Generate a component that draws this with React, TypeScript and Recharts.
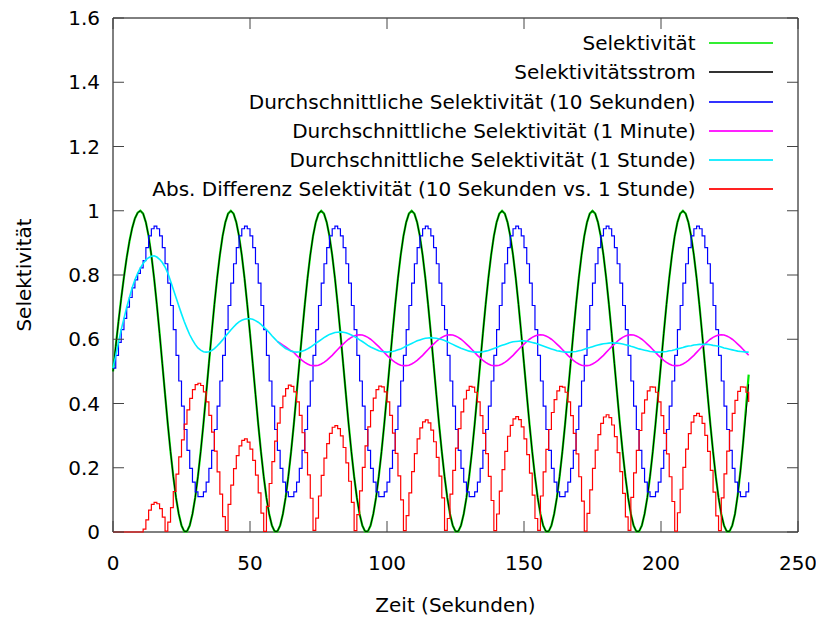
import React from 'react';
import { LineChart, Line, XAxis, YAxis, Legend, ReferenceArea } from 'recharts';

// ---------- data (one sample per second, t = 0 … 232 s) ----------
const sampleCount = 233;
const avg1minStart = 60;

const X_TICKS = [0, 50, 100, 150, 200, 250];
const Y_TICKS = [0, 0.2, 0.4, 0.6, 0.8, 1, 1.2, 1.4, 1.6];

const selektivitaet = [
  0.5, 0.578, 0.655, 0.727, 0.794, 0.854, 0.905, 0.946, 0.976, 0.994,
  1, 0.991, 0.964, 0.921, 0.862, 0.79, 0.708, 0.618, 0.524, 0.429, 0.336, 0.25, 0.173, 0.107, 0.056, 0.02, 0.002, 0.002, 0.02, 0.056, 0.107, 0.173, 0.25, 0.336, 0.429, 0.524, 0.618, 0.708, 0.79, 0.862, 0.921, 0.964, 0.991,
  1, 0.991, 0.964, 0.921, 0.862, 0.79, 0.708, 0.618, 0.524, 0.429, 0.336, 0.25, 0.173, 0.107, 0.056, 0.02, 0.002, 0.002, 0.02, 0.056, 0.107, 0.173, 0.25, 0.336, 0.429, 0.524, 0.618, 0.708, 0.79, 0.862, 0.921, 0.964, 0.991,
  1, 0.991, 0.964, 0.921, 0.862, 0.79, 0.708, 0.618, 0.524, 0.429, 0.336, 0.25, 0.173, 0.107, 0.056, 0.02, 0.002, 0.002, 0.02, 0.056, 0.107, 0.173, 0.25, 0.336, 0.429, 0.524, 0.618, 0.708, 0.79, 0.862, 0.921, 0.964, 0.991,
  1, 0.991, 0.964, 0.921, 0.862, 0.79, 0.708, 0.618, 0.524, 0.429, 0.336, 0.25, 0.173, 0.107, 0.056, 0.02, 0.002, 0.002, 0.02, 0.056, 0.107, 0.173, 0.25, 0.336, 0.429, 0.524, 0.618, 0.708, 0.79, 0.862, 0.921, 0.964, 0.991,
  1, 0.991, 0.964, 0.921, 0.862, 0.79, 0.708, 0.618, 0.524, 0.429, 0.336, 0.25, 0.173, 0.107, 0.056, 0.02, 0.002, 0.002, 0.02, 0.056, 0.107, 0.173, 0.25, 0.336, 0.429, 0.524, 0.618, 0.708, 0.79, 0.862, 0.921, 0.964, 0.991,
  1, 0.991, 0.964, 0.921, 0.862, 0.79, 0.708, 0.618, 0.524, 0.429, 0.336, 0.25, 0.173, 0.107, 0.056, 0.02, 0.002, 0.002, 0.02, 0.056, 0.107, 0.173, 0.25, 0.336, 0.429, 0.524, 0.618, 0.708, 0.79, 0.862, 0.921, 0.964, 0.991,
  1, 0.991, 0.964, 0.921, 0.862, 0.79, 0.708, 0.618, 0.524, 0.429, 0.336, 0.25, 0.173, 0.107, 0.056, 0.02, 0.002, 0.002, 0.02, 0.056, 0.115, 0.19, 0.28, 0.385, 0.49,
];

const selektivitaetsstrom = [
  0.5, 0.578, 0.655, 0.727, 0.794, 0.854, 0.905, 0.946, 0.976, 0.994,
  1, 0.991, 0.964, 0.921, 0.862, 0.79, 0.708, 0.618, 0.524, 0.429, 0.336, 0.25, 0.173, 0.107, 0.056, 0.02, 0.002, 0.002, 0.02, 0.056, 0.107, 0.173, 0.25, 0.336, 0.429, 0.524, 0.618, 0.708, 0.79, 0.862, 0.921, 0.964, 0.991,
  1, 0.991, 0.964, 0.921, 0.862, 0.79, 0.708, 0.618, 0.524, 0.429, 0.336, 0.25, 0.173, 0.107, 0.056, 0.02, 0.002, 0.002, 0.02, 0.056, 0.107, 0.173, 0.25, 0.336, 0.429, 0.524, 0.618, 0.708, 0.79, 0.862, 0.921, 0.964, 0.991,
  1, 0.991, 0.964, 0.921, 0.862, 0.79, 0.708, 0.618, 0.524, 0.429, 0.336, 0.25, 0.173, 0.107, 0.056, 0.02, 0.002, 0.002, 0.02, 0.056, 0.107, 0.173, 0.25, 0.336, 0.429, 0.524, 0.618, 0.708, 0.79, 0.862, 0.921, 0.964, 0.991,
  1, 0.991, 0.964, 0.921, 0.862, 0.79, 0.708, 0.618, 0.524, 0.429, 0.336, 0.25, 0.173, 0.107, 0.056, 0.02, 0.002, 0.002, 0.02, 0.056, 0.107, 0.173, 0.25, 0.336, 0.429, 0.524, 0.618, 0.708, 0.79, 0.862, 0.921, 0.964, 0.991,
  1, 0.991, 0.964, 0.921, 0.862, 0.79, 0.708, 0.618, 0.524, 0.429, 0.336, 0.25, 0.173, 0.107, 0.056, 0.02, 0.002, 0.002, 0.02, 0.056, 0.107, 0.173, 0.25, 0.336, 0.429, 0.524, 0.618, 0.708, 0.79, 0.862, 0.921, 0.964, 0.991,
  1, 0.991, 0.964, 0.921, 0.862, 0.79, 0.708, 0.618, 0.524, 0.429, 0.336, 0.25, 0.173, 0.107, 0.056, 0.02, 0.002, 0.002, 0.02, 0.056, 0.107, 0.173, 0.25, 0.336, 0.429, 0.524, 0.618, 0.708, 0.79, 0.862, 0.921, 0.964, 0.991,
  1, 0.991, 0.964, 0.921, 0.862, 0.79, 0.708, 0.618, 0.524, 0.429, 0.336, 0.25, 0.173, 0.107, 0.056, 0.02, 0.002, 0.002, 0.02, 0.056, 0.115, 0.19, 0.28, 0.37, 0.46,
];

const avg10s = [
  0.51, 0.55, 0.59, 0.63, 0.665, 0.7, 0.73, 0.76, 0.785, 0.805, 0.822, 0.845, 0.885, 0.922, 0.944,
  0.952, 0.944, 0.922, 0.885, 0.835, 0.775, 0.705, 0.63, 0.55, 0.47, 0.392, 0.319, 0.254, 0.198, 0.155, 0.125, 0.11, 0.11, 0.125, 0.155, 0.198, 0.254, 0.319, 0.392, 0.47, 0.55, 0.63, 0.705, 0.775, 0.835, 0.885, 0.922, 0.944,
  0.952, 0.944, 0.922, 0.885, 0.835, 0.775, 0.705, 0.63, 0.55, 0.47, 0.392, 0.319, 0.254, 0.198, 0.155, 0.125, 0.11, 0.11, 0.125, 0.155, 0.198, 0.254, 0.319, 0.392, 0.47, 0.55, 0.63, 0.705, 0.775, 0.835, 0.885, 0.922, 0.944,
  0.952, 0.944, 0.922, 0.885, 0.835, 0.775, 0.705, 0.63, 0.55, 0.47, 0.392, 0.319, 0.254, 0.198, 0.155, 0.125, 0.11, 0.11, 0.125, 0.155, 0.198, 0.254, 0.319, 0.392, 0.47, 0.55, 0.63, 0.705, 0.775, 0.835, 0.885, 0.922, 0.944,
  0.952, 0.944, 0.922, 0.885, 0.835, 0.775, 0.705, 0.63, 0.55, 0.47, 0.392, 0.319, 0.254, 0.198, 0.155, 0.125, 0.11, 0.11, 0.125, 0.155, 0.198, 0.254, 0.319, 0.392, 0.47, 0.55, 0.63, 0.705, 0.775, 0.835, 0.885, 0.922, 0.944,
  0.952, 0.944, 0.922, 0.885, 0.835, 0.775, 0.705, 0.63, 0.55, 0.47, 0.392, 0.319, 0.254, 0.198, 0.155, 0.125, 0.11, 0.11, 0.125, 0.155, 0.198, 0.254, 0.319, 0.392, 0.47, 0.55, 0.63, 0.705, 0.775, 0.835, 0.885, 0.922, 0.944,
  0.952, 0.944, 0.922, 0.885, 0.835, 0.775, 0.705, 0.63, 0.55, 0.47, 0.392, 0.319, 0.254, 0.198, 0.155, 0.125, 0.11, 0.11, 0.125, 0.155, 0.198, 0.254, 0.319, 0.392, 0.47, 0.55, 0.63, 0.705, 0.775, 0.835, 0.885, 0.922, 0.944,
  0.952, 0.944, 0.922, 0.885, 0.835, 0.775, 0.705, 0.63, 0.55, 0.47, 0.392, 0.319, 0.254, 0.198, 0.155, 0.125, 0.11, 0.11, 0.125, 0.155,
];

// starts at t = 60 s (before that it coincides with the 1-hour average)
const avg1min = [
  0.593, 0.588, 0.582, 0.576, 0.57, 0.564, 0.559, 0.55, 0.542, 0.534, 0.528, 0.523, 0.519, 0.518, 0.518, 0.519, 0.523, 0.528, 0.534, 0.542, 0.55, 0.559, 0.568, 0.577, 0.585, 0.593, 0.6, 0.606, 0.61, 0.613,
  0.614, 0.613, 0.61, 0.606, 0.6, 0.593, 0.585, 0.577, 0.568, 0.559, 0.55, 0.542, 0.534, 0.528, 0.523, 0.519, 0.518, 0.518, 0.519, 0.523, 0.528, 0.534, 0.542, 0.55, 0.559, 0.568, 0.577, 0.585, 0.593, 0.6, 0.606, 0.61, 0.613,
  0.614, 0.613, 0.61, 0.606, 0.6, 0.593, 0.585, 0.577, 0.568, 0.559, 0.55, 0.542, 0.534, 0.528, 0.523, 0.519, 0.518, 0.518, 0.519, 0.523, 0.528, 0.534, 0.542, 0.55, 0.559, 0.568, 0.577, 0.585, 0.593, 0.6, 0.606, 0.61, 0.613,
  0.614, 0.613, 0.61, 0.606, 0.6, 0.593, 0.585, 0.577, 0.568, 0.559, 0.55, 0.542, 0.534, 0.528, 0.523, 0.519, 0.518, 0.518, 0.519, 0.523, 0.528, 0.534, 0.542, 0.55, 0.559, 0.568, 0.577, 0.585, 0.593, 0.6, 0.606, 0.61, 0.613,
  0.614, 0.613, 0.61, 0.606, 0.6, 0.593, 0.585, 0.577, 0.568, 0.559, 0.55, 0.542, 0.534, 0.528, 0.523, 0.519, 0.518, 0.518, 0.519, 0.523, 0.528, 0.534, 0.542, 0.55, 0.559, 0.568, 0.577, 0.585, 0.593, 0.6, 0.606, 0.61, 0.613,
  0.614, 0.613, 0.61, 0.606, 0.6, 0.593, 0.585, 0.577, 0.568, 0.559, 0.55,
];

const avg1h = [
  0.51, 0.55, 0.59, 0.63, 0.665, 0.7, 0.73, 0.76, 0.785, 0.805,
  0.822, 0.836, 0.847, 0.854, 0.858, 0.86, 0.856, 0.849, 0.839, 0.825,
  0.806, 0.781, 0.756, 0.73, 0.704, 0.679, 0.655, 0.634, 0.614, 0.598,
  0.584, 0.573, 0.566, 0.561, 0.56, 0.561, 0.565, 0.571, 0.579, 0.588,
  0.598, 0.609, 0.619, 0.629, 0.638, 0.647, 0.654, 0.659, 0.662, 0.664,
  0.664, 0.662, 0.658, 0.653, 0.646, 0.638, 0.63, 0.621, 0.611, 0.602,
  0.593, 0.585, 0.578, 0.571, 0.567, 0.563, 0.561, 0.56, 0.561, 0.563,
  0.566, 0.57, 0.575, 0.581, 0.587, 0.593, 0.599, 0.605, 0.61, 0.615,
  0.618, 0.621, 0.622, 0.623, 0.622, 0.62, 0.617, 0.613, 0.609, 0.604,
  0.598, 0.593, 0.587, 0.581, 0.576, 0.572, 0.568, 0.564, 0.562, 0.561,
  0.56, 0.561, 0.562, 0.564, 0.567, 0.57, 0.574, 0.579, 0.583, 0.587,
  0.591, 0.595, 0.598, 0.601, 0.603, 0.604, 0.605, 0.604, 0.603, 0.601,
  0.599, 0.596, 0.592, 0.588, 0.584, 0.58, 0.576, 0.572, 0.569, 0.566,
  0.563, 0.561, 0.56, 0.56, 0.56, 0.561, 0.563, 0.565, 0.568, 0.571,
  0.574, 0.578, 0.581, 0.584, 0.587, 0.59, 0.592, 0.593, 0.594, 0.595,
  0.595, 0.594, 0.592, 0.59, 0.588, 0.585, 0.582, 0.579, 0.576, 0.573,
  0.57, 0.567, 0.564, 0.563, 0.561, 0.56, 0.56, 0.56, 0.561, 0.562,
  0.564, 0.566, 0.569, 0.572, 0.574, 0.577, 0.58, 0.582, 0.584, 0.586,
  0.587, 0.588, 0.589, 0.588, 0.588, 0.587, 0.585, 0.583, 0.581, 0.578,
  0.576, 0.573, 0.57, 0.568, 0.566, 0.564, 0.562, 0.561, 0.56, 0.56,
  0.56, 0.561, 0.562, 0.564, 0.565, 0.567, 0.57, 0.572, 0.574, 0.577,
  0.579, 0.58, 0.582, 0.583, 0.584, 0.584, 0.584, 0.584, 0.583, 0.581,
  0.58, 0.578, 0.576, 0.573, 0.571, 0.569, 0.567, 0.565, 0.563, 0.562,
  0.561, 0.56, 0.56,
];

const absDiff = [
  0, 0, 0, 0, 0, 0, 0, 0, 0, 0,
  0, 0.009, 0.038, 0.068, 0.086, 0.092, 0.088, 0.073, 0.046, 0.003,
  0.031, 0.076, 0.126, 0.18, 0.234, 0.287, 0.336, 0.38, 0.416, 0.443,
  0.459, 0.463, 0.456, 0.436, 0.405, 0.363, 0.311, 0.252, 0.187, 0.118,
  0.048, 0.004, 0.086, 0.146, 0.197, 0.238, 0.268, 0.285, 0.29, 0.28,
  0.258, 0.223, 0.177, 0.122, 0.059, 0.002, 0.08, 0.151, 0.219, 0.283,
  0.339, 0.387, 0.423, 0.446, 0.457, 0.453, 0.436, 0.405, 0.363, 0.309,
  0.247, 0.178, 0.105, 0.005, 0.043, 0.112, 0.176, 0.23, 0.275, 0.307,
  0.326, 0.331, 0.322, 0.299, 0.263, 0.215, 0.158, 0.092, 0.004, 0.054,
  0.128, 0.201, 0.268, 0.327, 0.378, 0.417, 0.443, 0.454, 0.452, 0.436,
  0.405, 0.363, 0.308, 0.245, 0.175, 0.1, 0.004, 0.051, 0.122, 0.188,
  0.244, 0.29, 0.324, 0.343, 0.349, 0.34, 0.317, 0.281, 0.232, 0.174,
  0.106, 0.005, 0.042, 0.118, 0.192, 0.261, 0.322, 0.374, 0.414, 0.441,
  0.453, 0.451, 0.435, 0.405, 0.362, 0.307, 0.244, 0.173, 0.098, 0.004,
  0.056, 0.127, 0.194, 0.251, 0.298, 0.332, 0.352, 0.359, 0.35, 0.327,
  0.29, 0.241, 0.183, 0.115, 0.042, 0.005, 0.112, 0.187, 0.257, 0.319,
  0.372, 0.412, 0.439, 0.453, 0.451, 0.435, 0.405, 0.362, 0.307, 0.243,
  0.172, 0.096, 0.003, 0.058, 0.131, 0.198, 0.255, 0.303, 0.338, 0.358,
  0.365, 0.356, 0.333, 0.297, 0.247, 0.188, 0.12, 0.047, 0.005, 0.108,
  0.184, 0.254, 0.316, 0.37, 0.411, 0.439, 0.452, 0.451, 0.435, 0.405,
  0.362, 0.307, 0.243, 0.172, 0.095, 0.003, 0.06, 0.133, 0.201, 0.258,
  0.306, 0.342, 0.362, 0.369, 0.36, 0.338, 0.301, 0.251, 0.192, 0.124,
  0.05, 0.004, 0.106, 0.181, 0.252, 0.315, 0.369, 0.41, 0.438, 0.452,
  0.451, 0.435, 0.405,
];

const rows = Array.from({ length: sampleCount }, (_, i) => ({
  t: i,
  sel: selektivitaet[i],
  strom: selektivitaetsstrom[i],
  avg10s: avg10s[i],
  avg1min: i >= avg1minStart ? avg1min[i - avg1minStart] : undefined,
  avg1h: avg1h[i],
  diff: absDiff[i],
}));

// ---------- presentation ----------
const FONT = '"DejaVu Sans", Verdana, sans-serif';
const PLOT_W = 685;
const PLOT_H = 514;
const TICK_LEN = 11;
const TICK_COLOR = '#444';

const SERIES = [
  { key: 'sel', name: 'Selektivität', color: '#00e600', legend: '#33ee33', width: 2.2, type: 'linear' },
  { key: 'strom', name: 'Selektivitätsstrom', color: '#000000', legend: '#333333', width: 1, type: 'linear' },
  { key: 'avg10s', name: 'Durchschnittliche Selektivität (10 Sekunden)', color: '#0000ff', legend: '#3333ff', width: 1.2, type: 'stepAfter' },
  { key: 'avg1min', name: 'Durchschnittliche Selektivität (1 Minute)', color: '#ff00ff', legend: '#ff22ff', width: 1.6, type: 'linear' },
  { key: 'avg1h', name: 'Durchschnittliche Selektivität (1 Stunde)', color: '#00eeff', legend: '#22eeff', width: 1.6, type: 'linear' },
  { key: 'diff', name: 'Abs. Differenz Selektivität (10 Sekunden vs. 1 Stunde)', color: '#ff0000', legend: '#ff2222', width: 1.2, type: 'stepAfter' },
];

function XTick(props: any) {
  const { x, y, payload } = props;
  return (
    <g>
      <line x1={x} x2={x} y1={y} y2={y - TICK_LEN} stroke={TICK_COLOR} />
      <line x1={x} x2={x} y1={y - PLOT_H} y2={y - PLOT_H + TICK_LEN} stroke={TICK_COLOR} />
      <text x={x} y={y + 38} textAnchor="middle" fontFamily={FONT} fontSize={20} fill="#000">
        {payload.value}
      </text>
    </g>
  );
}

function YTick(props: any) {
  const { x, y, payload } = props;
  return (
    <g>
      <line x1={x} x2={x + TICK_LEN} y1={y} y2={y} stroke={TICK_COLOR} />
      <line x1={x + PLOT_W} x2={x + PLOT_W - TICK_LEN} y1={y} y2={y} stroke={TICK_COLOR} />
      <text x={x - 13} y={y + 7} textAnchor="end" fontFamily={FONT} fontSize={20} fill="#000">
        {String(payload.value)}
      </text>
    </g>
  );
}

function LegendBox() {
  return (
    <div style={{ fontFamily: FONT, fontSize: 20, color: '#000' }}>
      {SERIES.map((s) => (
        <div
          key={s.key}
          style={{ display: 'flex', justifyContent: 'flex-end', alignItems: 'center', height: 29.2 }}
        >
          <span style={{ whiteSpace: 'nowrap' }}>{s.name}</span>
          <span
            style={{ display: 'inline-block', width: 64, height: 2, background: s.legend, marginLeft: 13 }}
          />
        </div>
      ))}
    </div>
  );
}

export default function App() {
  return (
    <div style={{ marginTop: -8 }}>
      <LineChart width={808} height={621} data={rows} margin={{ top: 18, right: 18, bottom: 0, left: 0 }}>
        <XAxis
          dataKey="t"
          type="number"
          domain={[0, 250]}
          ticks={X_TICKS}
          interval={0}
          height={89}
          tickSize={0}
          tickMargin={0}
          axisLine={false}
          tickLine={false}
          tick={<XTick />}
          label={{ value: 'Zeit (Sekunden)', position: 'insideBottom', offset: 9, fill: '#000', fontSize: 20, fontFamily: FONT }}
        />
        <YAxis
          type="number"
          domain={[0, 1.6]}
          ticks={Y_TICKS}
          interval={0}
          width={105}
          tickSize={0}
          tickMargin={0}
          axisLine={false}
          tickLine={false}
          tick={<YTick />}
          label={{
            value: 'Selektivität',
            angle: -90,
            position: 'insideLeft',
            offset: 16,
            fill: '#000',
            fontSize: 20,
            fontFamily: FONT,
            style: { textAnchor: 'middle' },
          }}
        />
        <ReferenceArea x1={0} x2={250} y1={0} y2={1.6} fill="none" stroke="#000" strokeWidth={1} ifOverflow="visible" />
        {SERIES.map((s) => (
          <Line
            key={s.key}
            dataKey={s.key}
            name={s.name}
            type={s.type as any}
            stroke={s.color}
            strokeWidth={s.width}
            dot={false}
            activeDot={false}
            isAnimationActive={false}
            connectNulls={false}
          />
        ))}
        <Legend
          layout="vertical"
          align="center"
          verticalAlign="middle"
          content={() => <LegendBox />}
          wrapperStyle={{ left: 0, top: 28.7, width: 764.7, height: 'auto' }}
        />
      </LineChart>
    </div>
  );
}
